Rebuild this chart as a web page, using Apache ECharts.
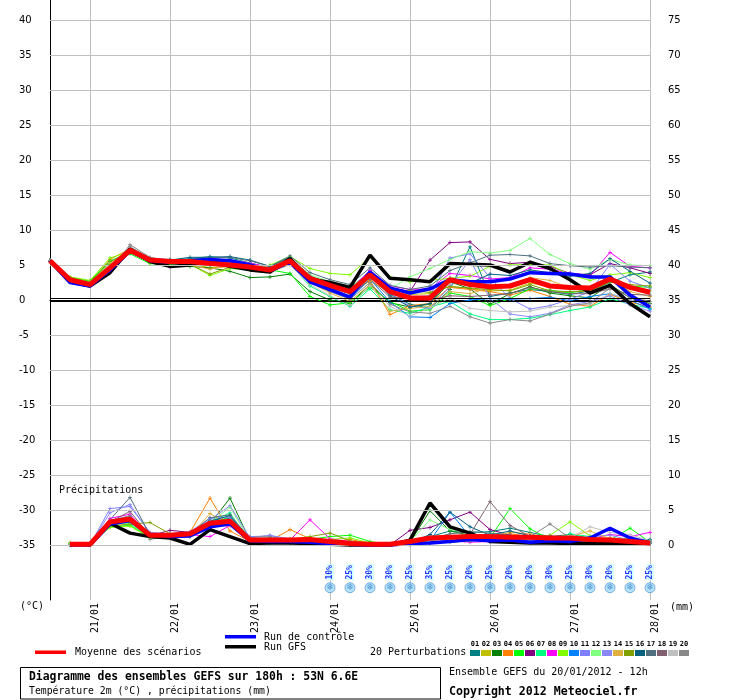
<!DOCTYPE html>
<html><head><meta charset="utf-8">
<script src="https://cdn.jsdelivr.net/npm/echarts@6/dist/echarts.min.js"></script>
<style>html,body{margin:0;padding:0;background:#fff}#c{width:740px;height:700px}</style>
</head><body><div id="c"></div>
<script>
const categories = ['20/01 12h','20/01 18h','21/01 00h','21/01 06h','21/01 12h','21/01 18h','22/01 00h','22/01 06h','22/01 12h','22/01 18h','23/01 00h','23/01 06h','23/01 12h','23/01 18h','24/01 00h','24/01 06h','24/01 12h','24/01 18h','25/01 00h','25/01 06h','25/01 12h','25/01 18h','26/01 00h','26/01 06h','26/01 12h','26/01 18h','27/01 00h','27/01 06h','27/01 12h','27/01 18h','28/01 00h'];

// horizontal grid values of the temperature axis (0 is drawn as the double zero line)
const gridValues = [-35,-30,-25,-20,-15,-10,-5,5,10,15,20,25,30,35,40];

const pertNames = ['01','02','03','04','05','06','07','08','09','10','11','12','13','14','15','16','17','18','19','20'];
const pertColors = ['#008080','#c0c000','#008000','#ff8000','#00ff00','#800080','#00ff80','#ff00ff','#80ff00','#0080ff','#8080ff','#80ff80','#8888f8','#e0b040','#80a000','#006080','#507080','#806070','#c0c0c0','#888888'];

// Temperature 2m (°C)
const tMean = [5.6,2.9,2.2,4.6,7.1,5.7,5.5,5.5,5.2,5.0,4.7,4.3,5.6,3.1,2.1,1.2,3.6,1.2,0.3,0.3,2.9,2.2,1.9,2.0,2.9,2.0,1.8,1.7,3.0,1.8,1.1];
const tGFS = [5.6,2.6,2.0,3.9,7.3,5.5,4.8,5.0,5.6,4.8,4.3,4.0,5.9,3.0,2.5,1.8,6.4,3.1,2.9,2.6,5.2,5.1,5.0,4.0,5.4,4.5,2.9,1.0,2.1,-0.5,-2.4];
const tCtrl = [5.6,2.5,2.0,4.3,7.0,5.6,5.4,5.6,5.8,5.6,5.0,4.2,5.4,2.6,1.5,0.4,4.0,1.7,1.0,1.6,2.9,2.6,2.6,3.0,3.9,3.8,3.7,3.3,3.3,0.7,-1.0];
const tP01 = [5.6,2.8,2.3,4.8,7.2,5.8,5.7,5.9,6.2,6.0,5.3,4.6,5.9,3.4,2.4,1.6,4.2,0.8,-0.6,-1.2,1.5,7.6,0.5,1.0,1.5,1.2,0.8,1.3,2.5,3.6,4.0];
const tP02 = [5.6,3.0,2.4,4.9,7.0,5.5,5.3,5.2,4.6,4.8,4.5,4.0,5.3,2.4,1.4,0.6,2.8,1.0,0.8,0.9,2.0,1.6,1.3,1.4,2.4,2.0,1.6,1.4,2.6,1.9,1.4];
const tP03 = [5.6,2.9,2.4,5.0,6.9,5.4,5.0,4.8,4.6,4.1,3.2,3.3,3.7,1.2,0.0,-0.5,2.2,-0.4,-1.0,-0.6,2.6,1.6,-0.6,0.9,1.9,1.0,0.6,0.3,2.2,0.3,-0.5];
const tP04 = [5.6,3.1,2.6,5.8,7.3,5.9,5.6,5.4,5.6,5.3,5.0,4.4,5.8,3.0,1.8,1.0,2.8,-2.1,-0.8,-0.5,1.8,1.5,1.2,0.7,1.4,0.5,-0.6,-0.9,0.8,-0.3,-1.0];
const tP05 = [5.6,3.2,2.7,5.6,6.6,5.2,5.0,4.9,5.3,5.1,4.7,4.3,3.8,0.5,-0.7,-0.4,1.8,-0.2,-1.6,-1.4,1.0,0.5,-0.8,0.2,1.6,1.4,1.0,1.6,3.1,2.0,1.8];
const tP06 = [5.6,2.9,2.3,4.4,7.2,5.8,5.5,5.6,5.6,5.5,4.9,4.5,5.7,3.2,2.2,1.4,3.9,1.8,1.2,5.7,8.2,8.3,5.8,5.2,5.4,4.8,3.8,3.6,5.2,4.6,3.8];
const tP07 = [5.6,3.0,2.5,5.5,7.0,5.6,5.4,5.3,5.0,5.0,4.6,4.0,5.1,2.0,0.5,-0.9,1.6,-1.4,-1.9,-1.0,-0.2,-2.0,-2.8,-2.8,-2.6,-2.1,-1.5,-1.0,0.2,-0.6,-1.2];
const tP08 = [5.6,2.8,2.2,4.7,7.0,5.7,4.7,5.4,5.8,5.7,5.3,4.6,5.9,3.3,2.3,1.5,4.2,2.0,1.5,1.6,3.8,3.5,3.0,3.2,4.6,4.4,3.8,3.5,6.8,4.8,4.6];
const tP09 = [5.6,3.3,2.8,6.0,6.9,5.3,5.2,5.1,3.5,4.5,4.3,5.0,6.2,4.5,3.8,3.6,6.1,3.3,2.6,2.8,3.1,3.4,4.8,5.0,5.1,5.0,3.6,2.8,3.6,3.9,3.2];
const tP10 = [5.6,2.7,2.1,4.1,6.8,5.6,5.6,5.8,5.9,5.7,5.1,4.2,5.4,2.6,1.3,0.2,3.0,-0.3,-2.4,-2.5,-0.5,0.0,0.2,0.1,0.2,0.4,-0.1,0.5,0.9,0.0,-1.3];
const tP11 = [5.6,2.7,2.2,4.3,7.0,5.6,5.5,5.6,5.7,5.8,5.2,4.4,5.6,2.8,1.5,0.5,3.3,0.9,0.4,0.6,6.0,6.6,3.2,0.2,-1.3,-0.8,0.1,1.2,5.1,2.7,1.7];
const tP12 = [5.6,3.1,2.6,5.3,7.0,5.5,5.4,5.4,5.2,5.2,4.9,4.6,6.0,3.6,2.6,2.0,3.4,1.6,3.3,4.5,5.8,6.9,6.7,7.1,8.8,6.5,5.2,4.4,5.8,5.0,4.9];
const tP13 = [5.6,2.9,2.3,4.5,7.1,5.7,5.6,5.5,5.4,5.5,5.0,4.3,5.5,2.9,1.8,0.9,3.5,1.0,-0.9,-1.2,2.0,5.8,0.2,-2.0,-2.4,-1.9,-0.7,-0.2,0.6,-0.7,-1.6];
const tP14 = [5.6,3.0,2.5,5.2,7.3,5.8,5.4,5.0,4.4,4.9,4.6,4.2,5.4,2.5,1.0,-0.2,2.2,-1.6,-1.2,-0.9,1.2,0.9,1.8,2.2,3.2,2.8,1.7,1.6,3.3,1.2,0.5];
const tP15 = [5.6,3.2,2.6,5.5,6.8,5.4,5.3,5.1,3.7,4.7,4.8,4.1,5.2,2.7,1.7,1.0,3.1,1.4,1.3,1.1,1.9,1.7,1.5,1.3,2.2,1.3,1.2,1.2,2.6,2.2,2.0];
const tP16 = [5.6,2.7,2.2,4.2,7.0,5.6,5.7,6.1,6.1,6.2,5.7,4.8,6.1,3.2,2.0,0.9,3.7,0.6,-1.0,-0.5,3.1,2.4,3.7,3.5,4.3,3.9,3.4,3.8,5.9,4.1,2.4];
const tP17 = [5.6,2.9,2.3,4.6,7.4,5.9,5.8,5.8,6.0,6.1,5.6,4.8,6.3,3.9,2.9,2.2,4.6,2.1,1.5,2.0,4.2,5.3,6.4,6.5,6.3,5.2,4.9,4.7,4.9,4.7,4.6];
const tP18 = [5.6,2.9,2.4,4.4,7.6,6.0,5.6,5.4,5.3,5.2,4.6,4.1,5.3,2.7,1.5,0.5,3.0,0.4,0.3,0.0,0.6,0.5,0.7,0.9,1.8,1.2,0.9,0.9,1.6,0.8,0.7];
const tP19 = [5.6,3.0,2.4,4.7,7.5,5.9,5.5,5.3,5.0,4.9,4.5,4.0,5.0,2.2,0.6,-0.8,2.0,-0.9,-2.3,-1.1,0.3,-1.2,-1.5,-1.7,-1.6,-1.0,-0.8,-0.6,0.9,0.0,-0.6];
const tP20 = [5.6,2.8,2.3,4.3,7.9,6.1,5.6,5.4,5.2,5.1,4.6,4.1,5.2,2.5,1.2,0.1,2.5,-0.6,-1.7,-1.9,-0.9,-2.4,-3.3,-2.8,-3.0,-2.0,-0.9,-0.4,1.7,0.4,-0.2];

// Precipitation (mm), first step has no value
const pMean = [null,0.1,0.1,3.3,3.7,1.4,1.4,1.6,3.1,3.4,0.7,0.7,0.7,0.8,0.5,0.2,0.1,0.1,0.5,1.0,1.1,1.2,1.2,1.1,1.1,1.0,1.0,0.8,0.7,0.5,0.3];
const pGFS = [null,0.1,0.1,3.1,1.7,1.2,1.0,0.1,2.2,1.2,0.2,0.3,0.3,0.2,0.1,0.0,0.0,0.0,0.7,6.0,2.6,1.7,0.5,0.4,0.3,0.3,0.2,0.2,0.3,0.2,0.1];
const pCtrl = [null,0.0,0.0,3.0,3.5,1.5,1.2,1.3,2.6,3.0,0.6,0.5,0.5,0.4,0.2,0.1,0.0,0.0,0.2,0.3,0.5,0.8,0.6,0.7,0.4,0.6,0.5,1.0,2.4,1.0,0.3];
const pP01 = [null,0.1,0.0,3.5,4.0,1.5,1.2,1.4,3.5,3.8,0.8,0.6,0.5,0.4,0.3,0.1,0.0,0.0,0.3,1.2,2.0,1.8,1.9,2.4,1.8,1.2,1.5,1.0,0.8,0.6,0.8];
const pP02 = [null,0.1,0.1,2.8,3.3,1.2,1.3,1.2,2.8,3.0,0.5,0.6,0.8,0.7,0.6,0.3,0.1,0.0,0.2,0.5,0.8,1.0,0.7,0.6,0.5,0.4,0.9,0.6,0.5,0.4,0.2];
const pP03 = [null,0.0,0.0,3.0,3.2,1.6,1.4,1.5,3.0,6.7,0.6,0.4,0.3,0.3,0.3,0.1,0.0,0.0,0.4,4.9,2.0,1.4,0.5,0.6,0.5,0.4,0.6,0.4,0.3,0.5,0.3];
const pP04 = [null,0.3,0.2,3.4,3.6,1.4,1.3,1.8,6.7,2.0,0.5,0.6,2.2,0.9,0.4,0.8,0.2,0.0,0.1,0.3,0.6,1.4,1.3,1.6,1.2,0.7,0.4,0.3,1.0,0.5,0.2];
const pP05 = [null,0.2,0.1,2.6,2.8,1.1,1.5,1.3,2.5,4.2,0.4,0.3,0.6,0.8,1.2,1.4,0.5,0.0,0.3,0.6,0.9,0.8,1.0,5.2,2.3,0.8,0.5,0.9,0.7,2.4,0.4];
const pP06 = [null,0.0,0.0,3.1,3.4,1.3,2.1,1.8,2.4,3.2,0.7,0.8,0.6,0.5,0.4,0.2,0.0,0.0,2.1,2.5,3.6,4.7,2.2,1.4,1.0,0.9,0.7,0.5,0.4,0.3,0.2];
const pP07 = [null,0.1,0.0,3.2,3.0,1.2,1.1,1.6,3.3,4.6,0.4,0.3,0.3,0.4,0.2,0.1,0.0,0.0,0.1,0.4,0.9,1.2,1.6,1.0,0.6,0.8,1.6,1.2,0.8,0.5,0.6];
const pP08 = [null,0.0,0.0,3.8,4.4,1.3,1.2,1.5,1.2,2.8,0.6,0.5,0.7,3.6,0.9,0.5,0.1,0.0,0.2,0.5,0.6,0.4,0.5,0.9,0.7,1.3,0.8,0.9,1.5,1.2,1.8];
const pP09 = [null,0.2,0.1,2.5,2.7,1.0,1.2,1.4,2.9,3.1,0.5,0.4,0.5,0.6,0.8,1.0,0.3,0.0,0.2,0.8,1.2,1.0,0.8,0.7,0.9,1.4,3.3,1.3,0.8,1.0,0.4];
const pP10 = [null,0.0,0.0,3.0,3.6,1.5,1.3,1.2,2.6,3.3,0.8,0.7,0.4,0.5,0.3,0.1,0.0,0.0,0.1,0.6,4.7,1.2,1.0,0.8,1.1,0.6,0.9,0.5,0.4,0.3,0.2];
const pP11 = [null,0.0,0.0,5.2,5.5,1.8,1.6,1.9,3.8,4.0,1.2,1.3,0.9,0.7,0.5,0.2,0.0,0.0,0.2,0.4,0.7,0.5,0.9,0.6,0.3,0.5,0.8,1.0,0.9,0.6,0.3];
const pP12 = [null,0.1,0.1,2.9,3.1,1.3,1.5,1.6,3.2,5.4,0.6,0.5,0.4,0.6,0.4,0.2,0.0,0.0,0.5,3.6,2.2,1.6,1.3,1.2,0.6,0.5,0.7,0.8,0.6,0.4,0.3];
const pP13 = [null,0.0,0.0,4.6,5.8,1.6,1.4,1.7,3.6,5.6,1.0,1.4,0.8,0.6,0.4,0.1,0.0,0.0,0.1,0.3,0.5,0.7,1.1,0.9,0.6,0.4,0.5,1.2,1.4,0.7,0.4];
const pP14 = [null,0.1,0.1,3.1,3.3,1.2,1.1,1.3,4.5,2.8,0.4,0.5,0.6,0.9,0.7,0.3,0.1,0.0,0.1,0.5,1.0,1.5,1.2,1.8,1.6,1.0,1.2,2.0,0.9,0.6,0.3];
const pP15 = [null,0.1,0.0,2.7,3.0,3.2,1.6,1.4,2.7,3.0,0.7,0.6,0.8,1.2,1.7,0.6,0.2,0.0,0.1,0.3,0.4,0.6,0.8,0.7,0.5,0.6,0.4,0.5,0.6,0.9,0.5];
const pP16 = [null,0.0,0.0,3.2,3.9,1.4,1.3,1.5,3.4,4.2,0.5,0.6,0.4,0.3,0.2,0.1,0.0,0.0,0.3,1.5,4.7,2.6,1.4,2.0,1.3,0.9,0.7,0.6,0.5,0.4,0.7];
const pP17 = [null,0.0,0.0,3.6,6.8,1.4,1.2,1.6,3.9,4.3,0.9,1.0,0.6,0.5,0.4,0.2,0.0,0.0,0.2,0.9,1.6,1.9,1.7,1.4,1.0,1.3,0.9,0.8,0.7,0.5,0.4];
const pP18 = [null,0.0,0.0,3.3,4.8,1.3,1.2,1.4,3.0,3.5,0.6,0.5,0.5,0.4,0.3,0.1,0.0,0.0,0.3,0.6,1.0,1.5,6.2,2.8,1.2,0.8,0.6,0.5,0.7,0.4,0.3];
const pP19 = [null,0.1,0.0,3.4,3.8,1.2,1.3,1.2,3.3,3.6,0.7,0.5,0.5,0.4,0.3,0.1,0.0,0.0,0.2,0.5,0.8,0.9,0.7,0.6,0.5,0.8,1.0,2.6,1.8,1.5,0.6];
const pP20 = [null,0.0,0.0,3.5,4.2,0.8,1.3,1.4,3.1,3.3,1.1,1.2,0.6,0.5,0.4,0.2,0.0,0.0,0.1,0.4,0.6,0.9,0.8,1.0,1.2,3.0,1.0,0.7,0.6,0.5,0.4];

// Snow probability (%)
const snowPct = [null,null,null,null,null,null,null,null,null,null,null,null,null,null,10,25,30,30,25,35,25,20,25,20,20,30,25,30,20,25,25];

const tPerts = [tP01,tP02,tP03,tP04,tP05,tP06,tP07,tP08,tP09,tP10,tP11,tP12,tP13,tP14,tP15,tP16,tP17,tP18,tP19,tP20];
const pPerts = [pP01,pP02,pP03,pP04,pP05,pP06,pP07,pP08,pP09,pP10,pP11,pP12,pP13,pP14,pP15,pP16,pP17,pP18,pP19,pP20];

const MONO = '"DejaVu Sans Mono", "Liberation Mono", monospace';
const HALF = 300 / 7; // half-span of the temperature axis
const FLAKE_Y = -41.1, PCT_Y = -38.9;
const ZERO_GAP = 1.5 / 7;
const isDay = (i, v) => v.endsWith('00h');
const intLabel = v => Math.abs(v - Math.round(v)) < 1e-6 ? String(Math.round(v)) : '';
const plus = 'path://M2,0H3V2H5V3H3V5H2V3H0V2H2Z';

const series = [];
// grid lines and double zero line
series.push({ type: 'line', data: [], yAxisIndex: 0, z: 1, silent: true, symbol: 'none',
  markLine: { silent: true, symbol: 'none', label: { show: false }, animation: false,
    lineStyle: { color: '#c0c0c0', width: 1, type: 'solid' },
    data: gridValues.map(v => ({ yAxis: v })) } });
tPerts.forEach((d, k) => series.push({
  type: 'line', data: d, yAxisIndex: 0, symbol: plus, symbolSize: 4, showAllSymbol: true,
  lineStyle: { width: 1, color: pertColors[k] }, itemStyle: { color: pertColors[k] }, z: 2, silent: true
}));
pPerts.forEach((d, k) => series.push({
  type: 'line', data: d, yAxisIndex: 1, symbol: plus, symbolSize: 4, showAllSymbol: true,
  lineStyle: { width: 1, color: pertColors[k] }, itemStyle: { color: pertColors[k] }, z: 2, silent: true
}));
series.push({ type: 'line', data: tGFS, yAxisIndex: 0, symbol: 'none', lineStyle: { width: 3.5, color: '#000' }, z: 3, silent: true,
  markLine: { silent: true, symbol: 'none', label: { show: false }, lineStyle: { color: '#000', width: 1, type: 'solid' },
    data: [{ yAxis: ZERO_GAP }, { yAxis: -ZERO_GAP }] } });
series.push({ type: 'line', data: pGFS, yAxisIndex: 1, symbol: 'none', lineStyle: { width: 3.5, color: '#000' }, z: 3, silent: true });
series.push({ type: 'line', data: tCtrl, yAxisIndex: 0, symbol: 'none', lineStyle: { width: 3.5, color: '#0000ff' }, z: 4, silent: true });
series.push({ type: 'line', data: pCtrl, yAxisIndex: 1, symbol: 'none', lineStyle: { width: 3.5, color: '#0000ff' }, z: 4, silent: true });
series.push({ type: 'line', data: tMean, yAxisIndex: 0, symbol: 'none', lineStyle: { width: 5, color: '#ff0000' }, z: 5, silent: true });
series.push({ type: 'line', data: pMean, yAxisIndex: 1, symbol: 'none', lineStyle: { width: 5, color: '#ff0000' }, z: 5, silent: true });

const snowIdx = [];
snowPct.forEach((p, i) => { if (p != null) snowIdx.push(i); });
series.push({ type: 'scatter', yAxisIndex: 0, data: snowIdx.map(i => [i, FLAKE_Y]), symbol: 'circle', symbolSize: 10,
  itemStyle: { color: '#a8dcfa', borderColor: '#5aa0e0', borderWidth: 1 }, z: 6, silent: true,
  label: { show: true, position: 'inside', formatter: '\u2744', color: '#2a78d0', fontSize: 9, fontFamily: 'DejaVu Sans' } });
series.push({ type: 'scatter', yAxisIndex: 0, data: snowIdx.map(i => [i, PCT_Y]), symbolSize: 1,
  itemStyle: { color: 'rgba(0,0,0,0)' }, z: 6, silent: true,
  label: { show: true, position: 'inside', rotate: 90, formatter: p => snowPct[p.data[0]] + '%',
    color: '#0000ff', fontSize: 8, fontFamily: MONO, fontWeight: 'bold', backgroundColor: '#ccffff', padding: [0, 1] } });

const graphic = [];
const txt = (text, x, y, font, extra) => graphic.push(Object.assign({ type: 'text', z: 10, silent: true,
  style: { text, x, y, font, fill: '#000', verticalAlign: 'middle', align: 'left' } }, extra || {}));
txt('(\u00B0C)', 20, 606, '10px ' + MONO);
txt('(mm)', 670, 607, '10px ' + MONO);
txt('Pr\u00E9cipitations', 59, 490, '10px ' + MONO);
graphic.push({ type: 'rect', silent: true, shape: { x: 35, y: 650.5, width: 31, height: 3.5 }, style: { fill: '#ff0000' } });
txt('Moyenne des sc\u00E9narios', 75, 652, '10px ' + MONO);
graphic.push({ type: 'rect', silent: true, shape: { x: 225, y: 635, width: 31, height: 3.5 }, style: { fill: '#0000ff' } });
graphic.push({ type: 'rect', silent: true, shape: { x: 225, y: 645, width: 31, height: 3.5 }, style: { fill: '#000000' } });
txt('Run de contr\u00F4le', 264, 637, '10px ' + MONO);
txt('Run GFS', 264, 647, '10px ' + MONO);
txt('20 Perturbations', 370, 652, '10px ' + MONO);
pertColors.forEach((c, k) => {
  graphic.push({ type: 'rect', silent: true, shape: { x: 470 + k * 11, y: 650, width: 10, height: 6 }, style: { fill: c } });
  graphic.push({ type: 'text', silent: true, style: { text: pertNames[k], x: 475 + k * 11, y: 644, font: 'bold 7px ' + MONO,
    fill: '#000', align: 'center', verticalAlign: 'middle' } });
});
graphic.push({ type: 'rect', silent: true, shape: { x: 20.5, y: 667.5, width: 420, height: 31.5 }, style: { fill: 'none', stroke: '#000', lineWidth: 1 } });
txt('Diagramme des ensembles GEFS sur 180h : 53N 6.6E', 29, 677, 'bold 11.4px ' + MONO);
txt('Temp\u00E9rature 2m (\u00B0C) , pr\u00E9cipitations (mm)', 29, 691, '9.8px ' + MONO);
txt('Ensemble GEFS du 20/01/2012 - 12h', 449, 672, '10px ' + MONO);
txt('Copyright 2012 Meteociel.fr', 449, 692, 'bold 11.6px ' + MONO);

const chart = echarts.init(document.getElementById('c'), null, { renderer: 'canvas' });
chart.setOption({
  animation: false,
  backgroundColor: '#fff',
  grid: { left: 50, right: 90, top: 0, bottom: 100 },
  xAxis: {
    type: 'category', data: categories, boundaryGap: false,
    axisLine: { lineStyle: { color: '#000', width: 1 } },
    axisTick: { show: false },
    axisLabel: { interval: isDay, formatter: v => v.slice(0, 5), rotate: 90, margin: 3, verticalAlign: 'top',
      fontFamily: MONO, fontSize: 10, color: '#000' },
    splitLine: { show: true, interval: isDay, lineStyle: { color: '#c0c0c0', width: 1 } }
  },
  yAxis: [
    { type: 'value', min: -HALF, max: HALF, splitNumber: 17,
      axisLine: { show: true, lineStyle: { color: '#000', width: 1 } }, axisTick: { show: false },
      axisLabel: { formatter: v => (v >= -35 ? intLabel(v) : ''), align: 'left', margin: 31, verticalAlign: 'middle', padding: [7, 0, 0, 0],
        fontFamily: 'DejaVu Sans', fontSize: 10, color: '#000' },
      splitLine: { show: false } },
    { type: 'value', min: 35 - HALF, max: 35 + HALF, splitNumber: 17, position: 'right',
      axisLine: { show: false }, axisTick: { show: false }, splitLine: { show: false },
      axisLabel: { formatter: v => (v >= 0 ? intLabel(v) : ''), align: 'left', margin: 18, verticalAlign: 'middle', padding: [7, 0, 0, 0],
        fontFamily: 'DejaVu Sans', fontSize: 10, color: '#000' } }
  ],
  graphic: graphic,
  series: series
});
</script></body></html>
